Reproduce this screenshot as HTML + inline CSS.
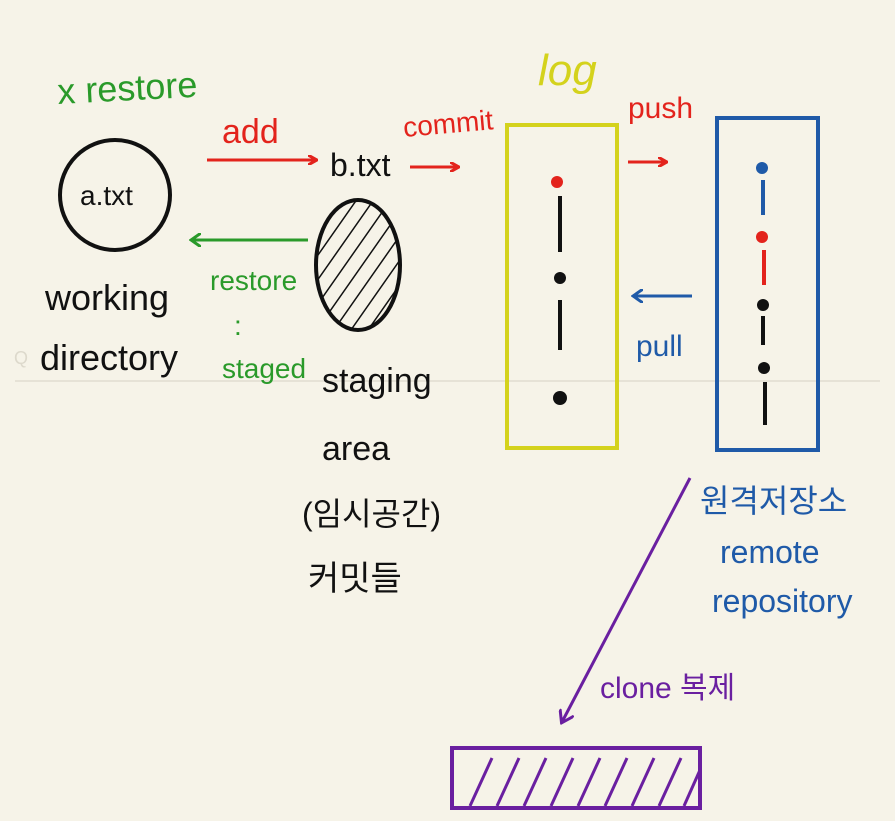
<!DOCTYPE html>
<html><head><meta charset="utf-8"><style>
html,body{margin:0;padding:0;background:#f6f3e8;}
svg{display:block}
text{font-family:"Liberation Sans","Noto Sans CJK KR",sans-serif;}
</style></head><body>
<svg width="895" height="821" viewBox="0 0 895 821">
<defs>
<marker id="ar" markerWidth="10" markerHeight="10" refX="8" refY="5" orient="auto" markerUnits="userSpaceOnUse"><path d="M0,0 L9,5 L0,10" fill="none" stroke="#e3231c" stroke-width="3"/></marker>
<marker id="ag" markerWidth="12" markerHeight="14" refX="9" refY="7" orient="auto" markerUnits="userSpaceOnUse"><path d="M0,0 L10,7 L0,14" fill="none" stroke="#2a9a2a" stroke-width="3"/></marker>
<marker id="ab" markerWidth="12" markerHeight="14" refX="9" refY="7" orient="auto" markerUnits="userSpaceOnUse"><path d="M0,0 L10,7 L0,14" fill="none" stroke="#1f5aa8" stroke-width="3"/></marker>
<marker id="ap" markerWidth="14" markerHeight="16" refX="11" refY="8" orient="auto" markerUnits="userSpaceOnUse"><path d="M0,0 L12,8 L0,16" fill="none" stroke="#6a1fa0" stroke-width="3"/></marker>
<pattern id="hatch" width="14" height="14" patternUnits="userSpaceOnUse" patternTransform="rotate(35)"><line x1="0" y1="0" x2="0" y2="14" stroke="#111" stroke-width="3"/></pattern>
<clipPath id="pc"><rect x="452" y="748" width="248" height="60"/></clipPath>
</defs>
<line x1="15" y1="381" x2="880" y2="381" stroke="#e6e2d6" stroke-width="2"/>
<text x="14" y="364" font-size="18" fill="#ddd9cc">Q</text>

<text x="58" y="104" font-size="36" fill="#2a9a2a" transform="rotate(-3 58 104)">x restore</text>
<circle cx="115" cy="195" r="55" fill="none" stroke="#111" stroke-width="4"/>
<text x="80" y="205" font-size="28" fill="#111">a.txt</text>
<text x="45" y="310" font-size="36" fill="#111">working</text>
<text x="40" y="370" font-size="36" fill="#111">directory</text>

<text x="222" y="143" font-size="34" fill="#e3231c">add</text>
<line x1="207" y1="160" x2="316" y2="160" stroke="#e3231c" stroke-width="3" marker-end="url(#ar)"/>
<text x="330" y="176" font-size="32" fill="#111">b.txt</text>
<text x="404" y="137" font-size="28" fill="#e3231c" transform="rotate(-5 404 137)">commit</text>
<line x1="410" y1="167" x2="458" y2="167" stroke="#e3231c" stroke-width="3" marker-end="url(#ar)"/>

<ellipse cx="358" cy="265" rx="42" ry="65" fill="url(#hatch)" stroke="#111" stroke-width="4"/>
<line x1="308" y1="240" x2="192" y2="240" stroke="#2a9a2a" stroke-width="3" marker-end="url(#ag)"/>
<text x="210" y="290" font-size="28" fill="#2a9a2a">restore</text>
<text x="234" y="335" font-size="28" fill="#2a9a2a">:</text>
<text x="222" y="378" font-size="28" fill="#2a9a2a">staged</text>
<text x="322" y="392" font-size="34" fill="#111">staging</text>
<text x="322" y="460" font-size="34" fill="#111">area</text>
<text x="302" y="525" font-size="32" fill="#111">(임시공간)</text>
<text x="308" y="590" font-size="34" fill="#111">커밋들</text>

<text x="538" y="85" font-size="44" fill="#d4d21c" font-style="italic">log</text>
<rect x="507" y="125" width="110" height="323" fill="none" stroke="#d4d21c" stroke-width="4"/>
<circle cx="557" cy="182" r="6" fill="#e3231c"/>
<line x1="560" y1="196" x2="560" y2="252" stroke="#111" stroke-width="4"/>
<circle cx="560" cy="278" r="6" fill="#111"/>
<line x1="560" y1="300" x2="560" y2="350" stroke="#111" stroke-width="4"/>
<circle cx="560" cy="398" r="7" fill="#111"/>

<text x="628" y="118" font-size="30" fill="#e3231c">push</text>
<line x1="628" y1="162" x2="666" y2="162" stroke="#e3231c" stroke-width="3" marker-end="url(#ar)"/>
<line x1="692" y1="296" x2="634" y2="296" stroke="#1f5aa8" stroke-width="3" marker-end="url(#ab)"/>
<text x="636" y="356" font-size="30" fill="#1f5aa8">pull</text>

<rect x="717" y="118" width="101" height="332" fill="none" stroke="#1f5aa8" stroke-width="4"/>
<circle cx="762" cy="168" r="6" fill="#1f5aa8"/>
<line x1="763" y1="180" x2="763" y2="215" stroke="#1f5aa8" stroke-width="4"/>
<circle cx="762" cy="237" r="6" fill="#e3231c"/>
<line x1="764" y1="250" x2="764" y2="285" stroke="#e3231c" stroke-width="4"/>
<circle cx="763" cy="305" r="6" fill="#111"/>
<line x1="763" y1="316" x2="763" y2="345" stroke="#111" stroke-width="4"/>
<circle cx="764" cy="368" r="6" fill="#111"/>
<line x1="765" y1="382" x2="765" y2="425" stroke="#111" stroke-width="4"/>

<text x="700" y="512" font-size="32" fill="#1f5aa8">원격저장소</text>
<text x="720" y="563" font-size="32" fill="#1f5aa8">remote</text>
<text x="712" y="612" font-size="32" fill="#1f5aa8">repository</text>

<line x1="690" y1="478" x2="562" y2="722" stroke="#6a1fa0" stroke-width="3" marker-end="url(#ap)"/>
<text x="600" y="698" font-size="30" fill="#6a1fa0">clone 복제</text>
<g clip-path="url(#pc)" stroke="#6a1fa0" stroke-width="3">
<line x1="470" y1="806" x2="492" y2="758"/>
<line x1="497" y1="806" x2="519" y2="758"/>
<line x1="524" y1="806" x2="546" y2="758"/>
<line x1="551" y1="806" x2="573" y2="758"/>
<line x1="578" y1="806" x2="600" y2="758"/>
<line x1="605" y1="806" x2="627" y2="758"/>
<line x1="632" y1="806" x2="654" y2="758"/>
<line x1="659" y1="806" x2="681" y2="758"/>
<line x1="684" y1="806" x2="700" y2="770"/>
</g>
<rect x="452" y="748" width="248" height="60" fill="none" stroke="#6a1fa0" stroke-width="4"/>
</svg>
</body></html>
